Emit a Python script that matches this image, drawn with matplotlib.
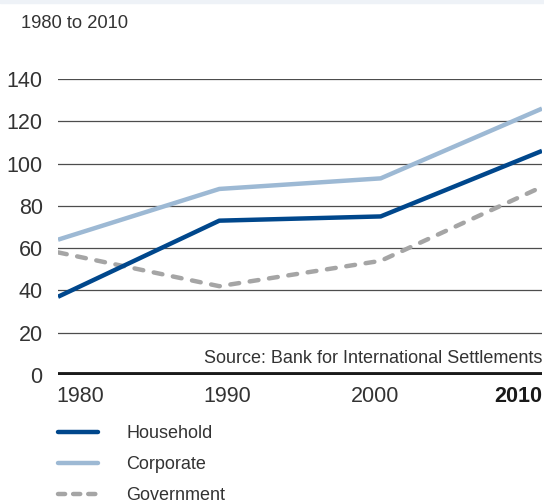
import matplotlib.pyplot as plt
import matplotlib.transforms as mtransforms
from matplotlib.patches import Rectangle

plt.rcParams['font.family'] = ['Liberation Sans', 'DejaVu Sans']

years = [1980, 1990, 2000, 2010]
household = [37, 73, 75, 106]
corporate = [64, 88, 93, 126]
government = [58, 42, 54, 89]
yticks = [0, 20, 40, 60, 80, 100, 120, 140]

text_col = '#333333'

fig = plt.figure(figsize=(5.44, 5.0), dpi=100)
fig.patches.append(Rectangle((0, 0.995), 1, 0.005, transform=fig.transFigure,
                             color='#eef2f7', zorder=0))
ax = fig.add_axes([58/544, 0.25, 484/544, 0.592])

ax.plot(years, household, color='#00478c', lw=3.2, solid_capstyle='butt',
        label='Household', zorder=4)
ax.plot(years, corporate, color='#9db9d4', lw=3.2, solid_capstyle='butt',
        label='Corporate', zorder=3)
ax.plot(years, government, color='#a5a5a5', lw=3.2, linestyle=(0, (2.0, 2.4)),
        dash_capstyle='round', label='Government', zorder=3)

for v in yticks[1:]:
    ax.axhline(v, color='#4d4d4d', lw=0.9, zorder=1)
ax.axhline(0, color='#1a1a1a', lw=4.2, zorder=5)

ax.set_xlim(1980, 2010)
ax.set_ylim(0, 140)
ax.set_yticks(yticks)
ax.set_xticks(years)
ax.set_xticklabels([str(y) for y in years])
for s in ax.spines.values():
    s.set_visible(False)
ax.tick_params(axis='both', length=0, labelsize=15.5, colors=text_col)
ax.tick_params(axis='y', pad=11)
ax.tick_params(axis='x', pad=8)

labels = ax.get_xticklabels()
aligns = ['left', 'center', 'center', 'right']
shifts = [-2, 8, -6, 0]
for lab, ha, dx in zip(labels, aligns, shifts):
    lab.set_ha(ha)
    lab.set_transform(lab.get_transform() +
                      mtransforms.ScaledTranslation(dx/100, 0, fig.dpi_scale_trans))
labels[-1].set_fontweight('bold')
labels[-1].set_color('#1a1a1a')

ax.text(1.0, 8, 'Source: Bank for International Settlements', transform=ax.get_yaxis_transform(),
        ha='right', va='center', fontsize=13, color=text_col)
fig.text(21/544, 1 - 23/500, '1980 to 2010', ha='left', va='center',
         fontsize=13.2, color=text_col)

leg = ax.legend(loc='upper left', bbox_to_anchor=(58/544, 1 - 425/500),
                bbox_transform=fig.transFigure, frameon=False, fontsize=13,
                handlelength=2.2, handletextpad=1.6, labelspacing=0.78,
                borderpad=0, borderaxespad=0)
for t in leg.get_texts():
    t.set_color(text_col)
for h in leg.legend_handles:
    h.set_solid_capstyle('round')
# legend dash for government: three short dashes
leg.legend_handles[2].set_linestyle((0, (1.6, 1.8)))

fig.savefig('out.png', dpi=100)
